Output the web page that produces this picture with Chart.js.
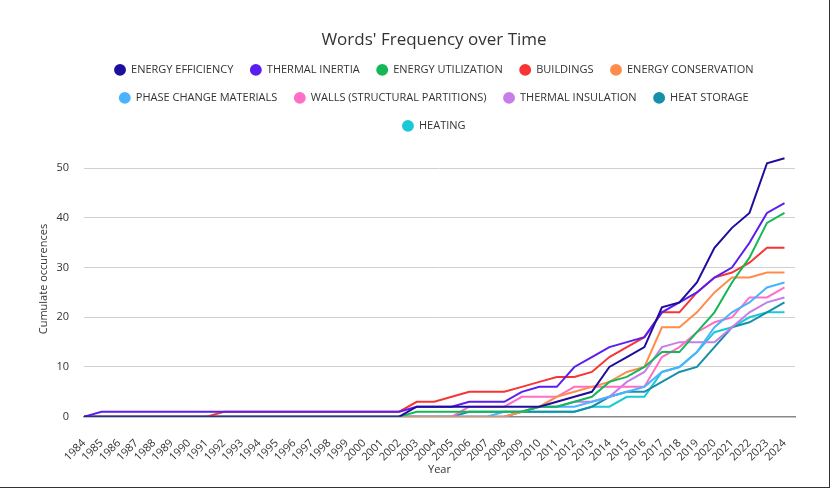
<!DOCTYPE html>
<html>
<head>
<meta charset="utf-8">
<script src="https://cdn.jsdelivr.net/npm/chart.js@4"></script>
<style>
  html, body { margin: 0; padding: 0; background: #fff; }
  #wrap { position: relative; width: 834px; height: 490px; }
  #frame { position: absolute; left: 0; top: 0; width: 829px; height: 487px;
           border-right: 1px solid #333; border-bottom: 1px solid #333; pointer-events: none; }
</style>
</head>
<body>
<div id="wrap"><canvas id="myChart"></canvas><div id="frame"></div></div>
<script>
var years = [1984, 1985, 1986, 1987, 1988, 1989, 1990, 1991, 1992, 1993, 1994, 1995, 1996, 1997,
  1998, 1999, 2000, 2001, 2002, 2003, 2004, 2005, 2006, 2007, 2008, 2009, 2010, 2011, 2012,
  2013, 2014, 2015, 2016, 2017, 2018, 2019, 2020, 2021, 2022, 2023, 2024];

var energyEfficiency = [0, 0, 0, 0, 0, 0, 0, 0, 0, 0, 0, 0, 0, 0, 0, 0, 0, 0, 0,
  2, 2, 2, 2, 2, 2, 2, 2, 3, 4, 5, 10, 12, 14, 22, 23, 27, 34, 38, 41, 51, 52];
var thermalInertia = [0, 1, 1, 1, 1, 1, 1, 1, 1, 1, 1, 1, 1, 1, 1, 1, 1, 1, 1,
  2, 2, 2, 3, 3, 3, 5, 6, 6, 10, 12, 14, 15, 16, 21, 23, 25, 28, 30, 35, 41, 43];
var energyUtilization = [0, 0, 0, 0, 0, 0, 0, 0, 0, 0, 0, 0, 0, 0, 0, 0, 0, 0, 0,
  1, 1, 1, 1, 1, 1, 1, 2, 2, 3, 4, 7, 8, 10, 13, 13, 17, 21, 27, 32, 39, 41];
var buildings = [0, 0, 0, 0, 0, 0, 0, 0, 1, 1, 1, 1, 1, 1, 1, 1, 1, 1, 1,
  3, 3, 4, 5, 5, 5, 6, 7, 8, 8, 9, 12, 14, 16, 21, 21, 25, 28, 29, 31, 34, 34];
var energyConservation = [0, 0, 0, 0, 0, 0, 0, 0, 0, 0, 0, 0, 0, 0, 0, 0, 0, 0, 0,
  0, 0, 0, 0, 0, 0, 1, 2, 4, 5, 6, 7, 9, 10, 18, 18, 21, 25, 28, 28, 29, 29];
var phaseChange = [0, 0, 0, 0, 0, 0, 0, 0, 0, 0, 0, 0, 0, 0, 0, 0, 0, 0, 0,
  0, 0, 0, 0, 0, 1, 1, 2, 2, 2, 3, 4, 5, 6, 9, 10, 13, 18, 21, 23, 26, 27];
var walls = [0, 0, 0, 0, 0, 0, 0, 0, 0, 0, 0, 0, 0, 0, 0, 0, 0, 0, 0,
  0, 0, 0, 2, 2, 2, 4, 4, 4, 6, 6, 6, 6, 6, 12, 14, 17, 19, 20, 24, 24, 26];
var thermalInsulation = [0, 0, 0, 0, 0, 0, 0, 0, 0, 0, 0, 0, 0, 0, 0, 0, 0, 0, 0,
  0, 0, 0, 0, 0, 0, 1, 2, 2, 3, 3, 4, 7, 9, 14, 15, 15, 15, 18, 21, 23, 24];
var heatStorage = [0, 0, 0, 0, 0, 0, 0, 0, 0, 0, 0, 0, 0, 0, 0, 0, 0, 0, 0,
  0, 0, 0, 1, 1, 1, 1, 1, 1, 1, 2, 4, 5, 5, 7, 9, 10, 14, 18, 19, 21, 23];
var heating = [0, 0, 0, 0, 0, 0, 0, 0, 0, 0, 0, 0, 0, 0, 0, 0, 0, 0, 0,
  0, 0, 0, 0, 0, 0, 1, 1, 1, 1, 2, 2, 4, 4, 9, 10, 13, 17, 18, 20, 21, 21];

var yTicks = [0, 10, 20, 30, 40, 50];

function series(label, values, color) {
  return {
    label: label,
    data: values.map(function (v, i) { return { x: years[i], y: v }; }),
    borderColor: color,
    backgroundColor: color,
    borderWidth: 2,
    pointRadius: 0,
    pointHoverRadius: 0,
    tension: 0,
    fill: false
  };
}

// legend wraps narrower than the chart, and title + legend sit a bit right of centre
var layoutTweaks = {
  id: "layoutTweaks",
  afterInit: function (chart) {
    var lg = chart.legend;
    var fitRows = lg._fitRows;
    lg._fitRows = function () {
      var mw = this.maxWidth;
      this.maxWidth = 712;
      var h = fitRows.apply(this, arguments);
      this.maxWidth = mw;
      return h;
    };
  },
  afterLayout: function (chart) {
    [chart.titleBlock, chart.legend].forEach(function (b) {
      b.left += 20;
      b.right += 20;
    });
    chart.titleBlock.top += 3;
    chart.titleBlock.bottom += 3;
  }
};

var font = "'Open Sans', sans-serif";
var ctx = document.getElementById("myChart").getContext("2d");
var chart = new Chart(ctx, {
  type: "line",
  data: {
    datasets: [
      series("ENERGY EFFICIENCY", energyEfficiency, "#1e0e9e"),
      series("THERMAL INERTIA", thermalInertia, "#5a1ef0"),
      series("ENERGY UTILIZATION", energyUtilization, "#14b856"),
      series("BUILDINGS", buildings, "#f83434"),
      series("ENERGY CONSERVATION", energyConservation, "#ff8c4a"),
      series("PHASE CHANGE MATERIALS", phaseChange, "#4ab3ff"),
      series("WALLS (STRUCTURAL PARTITIONS)", walls, "#ff6ec7"),
      series("THERMAL INSULATION", thermalInsulation, "#c77de8"),
      series("HEAT STORAGE", heatStorage, "#168fa8"),
      series("HEATING", heating, "#1bc8d8")
    ]
  },
  plugins: [layoutTweaks],
  options: {
    responsive: true,
    maintainAspectRatio: false,
    animation: false,
    layout: { padding: { top: 21, right: 39, bottom: 10, left: 33 } },
    plugins: {
      title: {
        display: true,
        text: "Words' Frequency over Time",
        color: "#333",
        font: { family: font, size: 17, weight: "normal" },
        padding: { top: 6, bottom: 0 }
      },
      legend: {
        position: "top",
        labels: {
          usePointStyle: true,
          pointStyle: "circle",
          boxWidth: 11,
          boxHeight: 7,
          padding: 17,
          color: "#333",
          font: { family: font, size: 11 }
        }
      },
      tooltip: { enabled: false }
    },
    scales: {
      x: {
        type: "linear",
        min: years[0],
        max: 2024.6,
        ticks: {
          stepSize: 1,
          includeBounds: false,
          autoSkip: false,
          maxRotation: 45,
          minRotation: 45,
          padding: 20,
          color: "#333",
          font: { family: font, size: 11 },
          callback: function (v) { return years.indexOf(v) >= 0 ? String(v) : ""; }
        },
        grid: { display: false, drawTicks: false },
        border: { display: true, color: "#888", width: 1.5 },
        title: {
          display: true,
          text: "Year",
          color: "#333",
          font: { family: font, size: 11 },
          padding: { top: -21, bottom: 4 }
        }
      },
      y: {
        min: 0,
        max: 55.4,
        afterBuildTicks: function (axis) {
          axis.ticks = yTicks.map(function (v) { return { value: v }; });
        },
        afterFit: function (axis) { axis.width = 51; },
        ticks: {
          color: "#333",
          padding: 15,
          font: { family: font, size: 11 }
        },
        grid: { color: "#d0d0d0", lineWidth: 1, drawTicks: false },
        border: { display: false },
        title: {
          display: true,
          text: "Cumulate occurences",
          color: "#333",
          font: { family: font, size: 11 },
          padding: { top: 4, bottom: 0 }
        }
      }
    }
  }
});
</script>
</body>
</html>
